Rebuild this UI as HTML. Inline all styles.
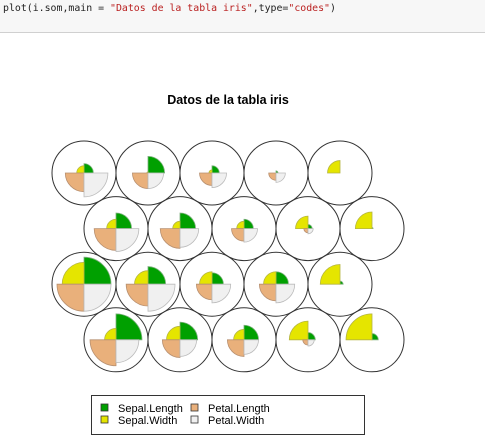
<!DOCTYPE html>
<html><head><meta charset="utf-8"><style>
body{margin:0;width:485px;height:439px;overflow:hidden;background:#fff;font-family:"Liberation Sans",sans-serif}
#code{position:absolute;left:0;top:0;width:485px;height:33px;background:#f7f7f7;border-bottom:1px solid #d0d0d0;font-family:"DejaVu Sans Mono","Liberation Mono",monospace;font-size:9.9px;line-height:18px;padding:0 3px;box-sizing:border-box;color:#222}
.s{color:#ba2121}
svg{position:absolute;left:0;top:0}
</style></head><body>
<div id="code">plot(i.som,main = <span class="s">"Datos de la tabla iris"</span>,type=<span class="s">"codes"</span>)</div>
<svg id="chart" width="485" height="439">
<text x="228" y="104" text-anchor="middle" font-size="12.5" font-weight="bold" font-family="Liberation Sans">Datos de la tabla iris</text>
<g id="units"></g>
<g>
<rect x="91.5" y="395.5" width="273" height="39" fill="#fff" stroke="#333"/>
<rect x="101" y="404" width="7" height="7" fill="#00a000" stroke="#333" stroke-width="0.8"/>
<text x="118" y="412" font-size="11">Sepal.Length</text>
<rect x="101" y="416" width="7" height="7" fill="#e5e500" stroke="#333" stroke-width="0.8"/>
<text x="118" y="424" font-size="11">Sepal.Width</text>
<rect x="191" y="404" width="7" height="7" fill="#e9b07b" stroke="#333" stroke-width="0.8"/>
<text x="208" y="412" font-size="11">Petal.Length</text>
<rect x="191" y="416" width="7" height="7" fill="#f0f0f0" stroke="#333" stroke-width="0.8"/>
<text x="208" y="424" font-size="11">Petal.Width</text>
</g>
</svg>
<script>
const variables=["Sepal.Length","Sepal.Width","Petal.Length","Petal.Width"];
const sepalLength=[9,16,7,2,0, 15,15,9,4,1, 26,17,11,12,3, 25,17,14,7,6];
const sepalWidth=[7,1,3,0,12, 9,7,7,12,16, 21,13,12,12,19, 11,13,10,18,25];
const petalLength=[18,15,12,7,0, 21,19,12,4,0, 26,21,15,16,0, 25,17,16,5,0];
const petalWidth=[23,15,14,9,0, 22,18,13,5,0, 26,26,18,18,0, 22,16,14,6,0];
const series=[sepalLength,sepalWidth,petalLength,petalWidth];
const colors=["#00a000","#e5e500","#e9b07b","#f0f0f0"];
const strokes=["#7fb07f","#b5b540","#b89070","#bbbbbb"];
const NS="http://www.w3.org/2000/svg";
const g=document.getElementById("units");
const cols=5,sp=64,rowH=55.6,x0=84,y0=173,R=32,maxV=26,maxR=27;
function cx(i){const r=Math.floor(i/cols),c=i%cols;return x0+c*sp+(r%2?32:0);}
function cy(i){return y0+Math.floor(i/cols)*rowH;}
function rs(v){return v/maxV*maxR;}
for(let i=0;i<sepalLength.length;i++){
  const X=cx(i),Y=cy(i);
  const c=document.createElementNS(NS,"circle");
  c.setAttribute("cx",X);c.setAttribute("cy",Y);c.setAttribute("r",R);
  c.setAttribute("fill","none");c.setAttribute("stroke","#333");c.setAttribute("stroke-width","1");
  
  
  g.appendChild(c);
  for(let k=0;k<4;k++){
    const r=rs(series[k][i]);if(r<=0)continue;
    const a0=-k*Math.PI/2,a1=-(k+1)*Math.PI/2;
    const p=document.createElementNS(NS,"path");
    const d=`M${X},${Y}L${X+r*Math.cos(a0)},${Y+r*Math.sin(a0)}A${r},${r} 0 0 0 ${X+r*Math.cos(a1)},${Y+r*Math.sin(a1)}Z`;
    p.setAttribute("d",d);p.setAttribute("fill",colors[k]);p.setAttribute("stroke",strokes[k]);p.setAttribute("stroke-width","0.8");
    
    
    g.appendChild(p);
  }
}
</script>
</body></html>
